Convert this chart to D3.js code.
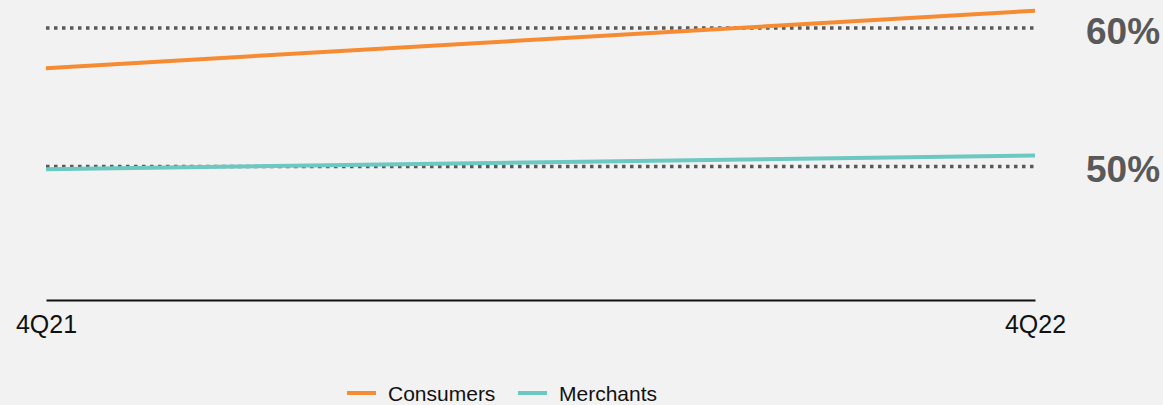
<!DOCTYPE html>
<html>
<head>
<meta charset="utf-8">
<script src="https://cdn.jsdelivr.net/npm/d3@7/dist/d3.min.js"></script>
<style>
  html, body { margin: 0; padding: 0; background: #f2f2f2; }
  svg { display: block; font-family: "Liberation Sans", Arial, sans-serif; }
</style>
</head>
<body>
<svg id="chart" width="1163" height="405"></svg>
<script>
// Quarters on the x axis
const categories = ["4Q21", "4Q22"];
// Share of each group (%)
const consumers = [57.1, 61.25];
const merchants = [49.8, 50.8];
// Reference levels drawn as dotted guides
const refValues = [60, 50];
const refLabels = ["60%", "50%"];

const seriesNames = ["Consumers", "Merchants"];
const seriesColors = ["#f58b32", "#6cc8c1"];

const svg = d3.select("#chart");
const W = 1163, H = 405;

const x = d3.scalePoint().domain(categories).range([46, 1035]);
const y = d3.scaleLinear().domain([40.36, 62.02]).range([300, 0]);

// Dotted reference lines
svg.append("g").selectAll("line")
  .data(refValues)
  .join("line")
  .attr("x1", x.range()[0])
  .attr("x2", x.range()[1])
  .attr("y1", d => y(d))
  .attr("y2", d => y(d))
  .attr("stroke", "#595959")
  .attr("stroke-width", 3.5)
  .attr("stroke-dasharray", "3.5,4.5");

// Reference labels on the right
svg.append("g").selectAll("text")
  .data(refValues)
  .join("text")
  .attr("x", 1086)
  .attr("y", d => y(d))
  .attr("dy", "0.42em")
  .attr("font-size", 37)
  .attr("font-weight", "bold")
  .attr("fill", "#595959")
  .text((d, i) => refLabels[i]);

// Series lines
const series = [consumers, merchants];
const line = d3.line()
  .x((d, i) => x(categories[i]))
  .y(d => y(d));

svg.append("g").selectAll("path")
  .data(series)
  .join("path")
  .attr("d", d => line(d))
  .attr("fill", "none")
  .attr("stroke", (d, i) => seriesColors[i])
  .attr("stroke-width", 4);

// Bottom axis
const axis = svg.append("g")
  .attr("transform", `translate(0,${y(40.36)})`)
  .call(d3.axisBottom(x).tickSize(0).tickSizeOuter(0).tickPadding(15));
axis.select(".domain").attr("stroke", "#111").attr("stroke-width", 2);
axis.selectAll("text")
  .attr("font-size", 25)
  .attr("font-family", "Liberation Sans, Arial, sans-serif")
  .attr("fill", "#111");

// Legend
const legend = svg.append("g");
const legendX = [347, 518];
const item = legend.selectAll("g")
  .data(seriesNames)
  .join("g")
  .attr("transform", (d, i) => `translate(${legendX[i]},393)`);
item.append("line")
  .attr("x1", 0).attr("x2", 29)
  .attr("y1", 0).attr("y2", 0)
  .attr("stroke", (d, i) => seriesColors[i])
  .attr("stroke-width", 4);
item.append("text")
  .attr("x", 41)
  .attr("y", 8)
  .attr("font-size", 21)
  .attr("fill", "#111")
  .text(d => d);
</script>
</body>
</html>
